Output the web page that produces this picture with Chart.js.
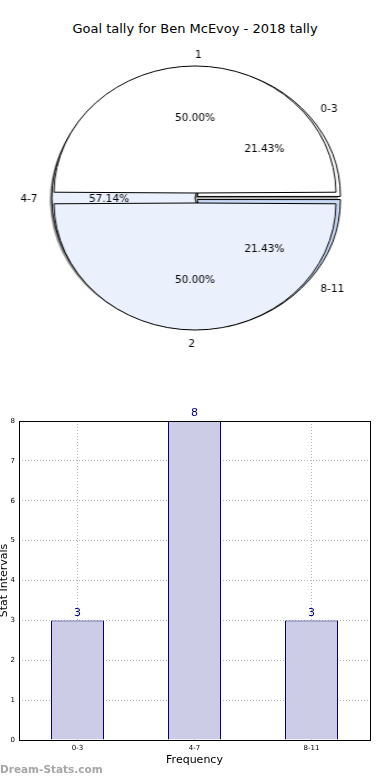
<!DOCTYPE html>
<html>
<head>
<meta charset="utf-8">
<script src="https://cdn.jsdelivr.net/npm/chart.js@4.4.0/dist/chart.umd.min.js"></script>
<style>
    html, body { margin: 0; padding: 0; background: #fff; width: 390px; height: 780px; overflow: hidden; font-family: "DejaVu Sans", sans-serif; }
    #title { position: absolute; left: 0; top: 21px; width: 390px; text-align: center; font-size: 13px; color: #000; }
    #pieBox { position: absolute; left: 20px; top: 43px; width: 350px; height: 310px; transform-origin: 175px 155px; transform: scaleX(1.11); }
    #pieBox canvas { position: absolute; left: 0; top: 0; }
    #barBox { position: absolute; left: 0; top: 400px; }
    #mark { position: absolute; left: 0; top: 763px; font-size: 10.5px; font-weight: bold; color: #a6a6a6; }
</style>
</head>
<body>
<div id="title">Goal tally for Ben McEvoy - 2018 tally</div>
<div id="pieBox">
    <canvas id="pieBack" width="350" height="310"></canvas>
    <canvas id="pieFront" width="350" height="310"></canvas>
</div>
<div id="barBox"><canvas id="bars" width="390" height="380"></canvas></div>
<div id="mark">Dream-Stats.com</div>
<script>
// data
const categories = ['0-3', '4-7', '8-11'];
const counts = [3, 8, 3];
const halfLabels = ['1', '2'];
const halfCounts = [1, 1];
const yMin = 0;
const yMax = 8;
const yStep = 1;

const STRETCH = 1.11; // the pie is drawn a bit wider than tall
const NAVY = '#000080';
const PALE = '#eaf0fc';

Chart.defaults.font.family = '"DejaVu Sans", sans-serif';
Chart.defaults.color = '#000';

/**
 * Where an arc really ends up once its offset is applied (same maths as ArcElement.draw)
 */
function arcGeom(arc) {
    const off = (arc.options.offset || 0) / 4;
    const mid = (arc.startAngle + arc.endAngle) / 2;
    const fix = 1 - Math.sin(Math.min(Math.PI, arc.circumference));
    return {
        x: arc.x + Math.cos(mid) * off,
        y: arc.y + Math.sin(mid) * off,
        r: arc.outerRadius + off * fix,
        mid: mid,
    };
}

// text is un-stretched so it does not get the pie's horizontal scale
function putText(ctx, text, x, y, align) {
    ctx.save();
    ctx.translate(x, y + 1.5);
    ctx.scale(1 / STRETCH, 1);
    ctx.textAlign = align;
    ctx.textBaseline = 'middle';
    ctx.fillText(text, 0, 0);
    ctx.restore();
}

function drawPieTexts(ctx, chart) {
    const meta = chart.getDatasetMeta(0);
    const values = chart.data.datasets[0].data;
    const labels = chart.data.labels;
    const total = values.reduce((a, b) => a + b, 0);
    meta.data.forEach((arc, i) => {
        const g = arcGeom(arc);
        const c = Math.cos(g.mid);
        const s = Math.sin(g.mid);
        let align = c > 1e-6 ? 'left' : c < -1e-6 ? 'right' : (s < 0 ? 'left' : 'right');
        putText(ctx, labels[i], g.x + c * g.r * 1.1, g.y + s * g.r * 1.1, align);
        const pct = ((values[i] / total) * 100).toFixed(2) + '%';
        putText(ctx, pct, g.x + c * g.r * 0.6, g.y + s * g.r * 0.6, 'center');
    });
}

const pieShadow = {
    id: 'pieShadow',
    beforeDatasetsDraw(chart) {
        const ctx = chart.ctx;
        ctx.save();
        ctx.fillStyle = '#8a8a8a';
        chart.getDatasetMeta(0).data.forEach(arc => {
            const g = arcGeom(arc);
            const sx = g.x - 2 / STRETCH;
            const sy = g.y + 2;
            ctx.beginPath();
            ctx.moveTo(sx, sy);
            ctx.arc(sx, sy, g.r, arc.startAngle, arc.endAngle);
            ctx.closePath();
            ctx.fill();
        });
        ctx.restore();
    },
};

function pieOptions() {
    return {
        responsive: false,
        animation: false,
        rotation: 90,
        layout: { padding: 0 },
        plugins: {
            legend: { display: false },
            tooltip: { enabled: false },
        },
    };
}

// back pie: the three intervals (reversed so it runs counter-clockwise from 3 o'clock)
const backChart = new Chart(document.getElementById('pieBack'), {
    type: 'pie',
    data: {
        labels: categories.slice().reverse(),
        datasets: [{
            data: counts.slice().reverse(),
            backgroundColor: ['#c8d9f6', PALE, '#ffffff'],
            borderColor: '#000',
            borderWidth: 1,
            offset: [10, 0, 10],
            radius: 129,
        }],
    },
    options: pieOptions(),
    plugins: [pieShadow],
});

// front pie: the two halves, exploded a little
const pieTexts = {
    id: 'pieTexts',
    afterDraw(chart) {
        const ctx = chart.ctx;
        ctx.save();
        ctx.fillStyle = '#000';
        ctx.font = '10.5px "DejaVu Sans", sans-serif';
        drawPieTexts(ctx, backChart);
        drawPieTexts(ctx, chart);
        ctx.restore();
    },
};

new Chart(document.getElementById('pieFront'), {
    type: 'pie',
    data: {
        labels: halfLabels.slice().reverse(),
        datasets: [{
            data: halfCounts.slice().reverse(),
            backgroundColor: [PALE, '#ffffff'],
            borderColor: '#000',
            borderWidth: 1,
            offset: 20,
            radius: 122,
        }],
    },
    options: pieOptions(),
    plugins: [pieTexts],
});

// bar chart
const frame = {
    id: 'frame',
    afterDraw(chart) {
        const { left, top, right, bottom } = chart.chartArea;
        const ctx = chart.ctx;
        ctx.save();
        ctx.strokeStyle = '#000';
        ctx.lineWidth = 1;
        ctx.strokeRect(Math.round(left) + 0.5, Math.round(top) + 0.5, Math.round(right - left), Math.round(bottom - top));
        ctx.restore();
    },
};

const barValues = {
    id: 'barValues',
    afterDatasetsDraw(chart) {
        const ctx = chart.ctx;
        const meta = chart.getDatasetMeta(0);
        ctx.save();
        ctx.fillStyle = NAVY;
        ctx.font = '11px "DejaVu Sans", sans-serif';
        ctx.textAlign = 'center';
        ctx.textBaseline = 'bottom';
        meta.data.forEach((bar, i) => {
            ctx.fillText(String(chart.data.datasets[0].data[i]), bar.x, bar.y - 2);
        });
        ctx.restore();
    },
};

const gridStyle = { color: '#b8b8b8', lineWidth: 1, drawTicks: false };

new Chart(document.getElementById('bars'), {
    type: 'bar',
    data: {
        labels: categories,
        datasets: [{
            data: counts,
            backgroundColor: '#ccccE6',
            borderColor: NAVY,
            borderWidth: 1,
            inflateAmount: 0,
            barPercentage: 0.453,
            categoryPercentage: 1,
        }],
    },
    options: {
        responsive: false,
        animation: false,
        layout: { padding: { top: 21, right: 20, bottom: 0, left: 0 } },
        plugins: {
            legend: { display: false },
            tooltip: { enabled: false },
        },
        scales: {
            x: {
                grid: Object.assign({ offset: false }, gridStyle),
                border: { display: false, dash: [1, 2] },
                ticks: { font: { size: 7 }, padding: 4, maxRotation: 0 },
                title: { display: true, text: 'Frequency', font: { size: 11 }, padding: { top: 0, bottom: 13 } },
                afterFit(scale) { scale.height = 40; },
            },
            y: {
                min: yMin,
                max: yMax,
                grid: gridStyle,
                border: { display: false, dash: [1, 2] },
                ticks: { stepSize: yStep, font: { size: 7 }, padding: 4 },
                title: { display: true, text: 'Stat Intervals', font: { size: 11 }, padding: { top: -2, bottom: 0 } },
                afterFit(scale) { scale.width = 19; },
            },
        },
    },
    plugins: [frame, barValues],
});
</script>
</body>
</html>
